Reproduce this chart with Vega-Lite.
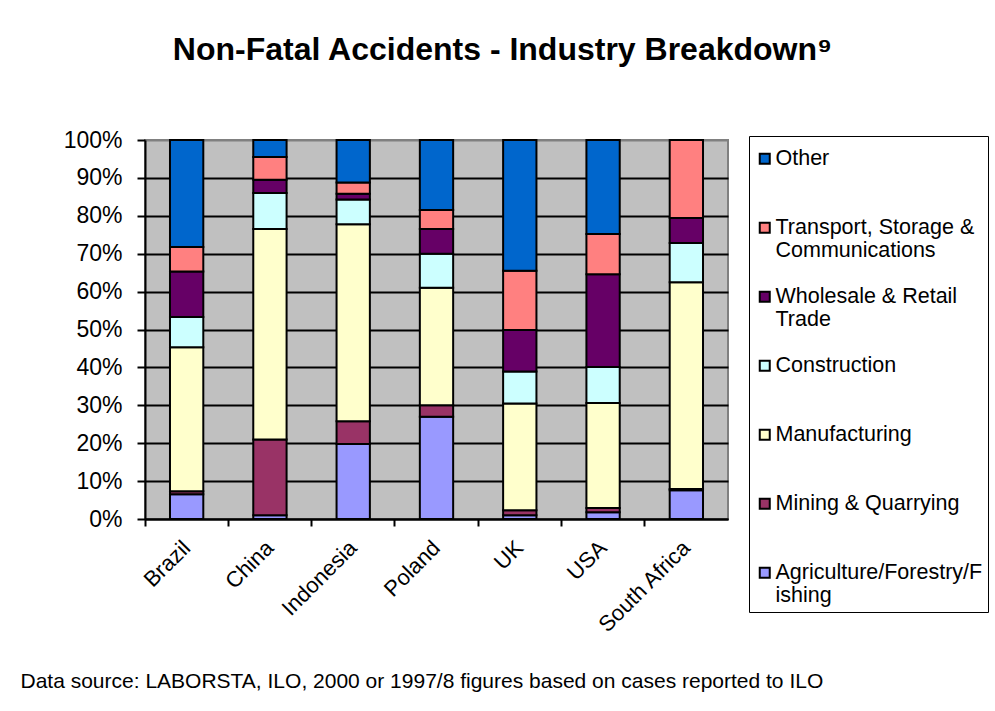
{
  "$schema": "https://vega.github.io/schema/vega-lite/v6.json",
  "width": 583,
  "height": 379,
  "autosize": {"type": "none"},
  "padding": {"left": 145, "top": 140, "right": 267, "bottom": 192},
  "background": "white",
  "title": {
    "text": "Non-Fatal Accidents - Industry Breakdown⁹",
    "font": "Liberation Sans",
    "fontSize": 32,
    "fontWeight": "bold",
    "color": "black",
    "anchor": "middle",
    "dx": 66,
    "offset": 62
  },
  "data": {
    "values": [
      {"country": "Brazil", "sector": "Agriculture/Forestry/Fishing", "ord": 1, "value": 6.5},
      {"country": "Brazil", "sector": "Mining & Quarrying", "ord": 2, "value": 0.8},
      {"country": "Brazil", "sector": "Manufacturing", "ord": 3, "value": 38},
      {"country": "Brazil", "sector": "Construction", "ord": 4, "value": 8},
      {"country": "Brazil", "sector": "Wholesale & Retail Trade", "ord": 5, "value": 12},
      {"country": "Brazil", "sector": "Transport, Storage & Communications", "ord": 6, "value": 6.5},
      {"country": "Brazil", "sector": "Other", "ord": 7, "value": 28.2},
      {"country": "China", "sector": "Agriculture/Forestry/Fishing", "ord": 1, "value": 1},
      {"country": "China", "sector": "Mining & Quarrying", "ord": 2, "value": 20},
      {"country": "China", "sector": "Manufacturing", "ord": 3, "value": 55.5},
      {"country": "China", "sector": "Construction", "ord": 4, "value": 9.5},
      {"country": "China", "sector": "Wholesale & Retail Trade", "ord": 5, "value": 3.5},
      {"country": "China", "sector": "Transport, Storage & Communications", "ord": 6, "value": 6},
      {"country": "China", "sector": "Other", "ord": 7, "value": 4.5},
      {"country": "Indonesia", "sector": "Agriculture/Forestry/Fishing", "ord": 1, "value": 19.8},
      {"country": "Indonesia", "sector": "Mining & Quarrying", "ord": 2, "value": 6},
      {"country": "Indonesia", "sector": "Manufacturing", "ord": 3, "value": 52},
      {"country": "Indonesia", "sector": "Construction", "ord": 4, "value": 6.5},
      {"country": "Indonesia", "sector": "Wholesale & Retail Trade", "ord": 5, "value": 1.5},
      {"country": "Indonesia", "sector": "Transport, Storage & Communications", "ord": 6, "value": 3},
      {"country": "Indonesia", "sector": "Other", "ord": 7, "value": 11.2},
      {"country": "Poland", "sector": "Agriculture/Forestry/Fishing", "ord": 1, "value": 27},
      {"country": "Poland", "sector": "Mining & Quarrying", "ord": 2, "value": 3},
      {"country": "Poland", "sector": "Manufacturing", "ord": 3, "value": 31},
      {"country": "Poland", "sector": "Construction", "ord": 4, "value": 9},
      {"country": "Poland", "sector": "Wholesale & Retail Trade", "ord": 5, "value": 6.5},
      {"country": "Poland", "sector": "Transport, Storage & Communications", "ord": 6, "value": 5},
      {"country": "Poland", "sector": "Other", "ord": 7, "value": 18.5},
      {"country": "UK", "sector": "Agriculture/Forestry/Fishing", "ord": 1, "value": 1},
      {"country": "UK", "sector": "Mining & Quarrying", "ord": 2, "value": 1.3},
      {"country": "UK", "sector": "Manufacturing", "ord": 3, "value": 28.2},
      {"country": "UK", "sector": "Construction", "ord": 4, "value": 8.4},
      {"country": "UK", "sector": "Wholesale & Retail Trade", "ord": 5, "value": 11},
      {"country": "UK", "sector": "Transport, Storage & Communications", "ord": 6, "value": 15.6},
      {"country": "UK", "sector": "Other", "ord": 7, "value": 34.5},
      {"country": "USA", "sector": "Agriculture/Forestry/Fishing", "ord": 1, "value": 1.8},
      {"country": "USA", "sector": "Mining & Quarrying", "ord": 2, "value": 1.1},
      {"country": "USA", "sector": "Manufacturing", "ord": 3, "value": 27.7},
      {"country": "USA", "sector": "Construction", "ord": 4, "value": 9.5},
      {"country": "USA", "sector": "Wholesale & Retail Trade", "ord": 5, "value": 24.5},
      {"country": "USA", "sector": "Transport, Storage & Communications", "ord": 6, "value": 10.6},
      {"country": "USA", "sector": "Other", "ord": 7, "value": 24.8},
      {"country": "South Africa", "sector": "Agriculture/Forestry/Fishing", "ord": 1, "value": 7.6},
      {"country": "South Africa", "sector": "Mining & Quarrying", "ord": 2, "value": 0.3},
      {"country": "South Africa", "sector": "Manufacturing", "ord": 3, "value": 54.6},
      {"country": "South Africa", "sector": "Construction", "ord": 4, "value": 10.3},
      {"country": "South Africa", "sector": "Wholesale & Retail Trade", "ord": 5, "value": 6.6},
      {"country": "South Africa", "sector": "Transport, Storage & Communications", "ord": 6, "value": 20.6}
    ]
  },
  "mark": {"type": "bar", "width": {"band": 0.4}, "stroke": "black", "strokeWidth": 2},
  "encoding": {
    "x": {
      "field": "country",
      "type": "nominal",
      "sort": ["Brazil", "China", "Indonesia", "Poland", "UK", "USA", "South Africa"],
      "scale": {"paddingInner": 0, "paddingOuter": 0},
      "axis": {
        "title": "Data source: LABORSTA, ILO, 2000 or 1997/8 figures based on cases reported to ILO",
        "titleFont": "Liberation Sans",
        "titleFontSize": 21,
        "titleFontWeight": "normal",
        "titleColor": "black",
        "titleX": -125,
        "titleY": 168,
        "titleAlign": "left",
        "titleAnchor": "start",
        "titleBaseline": "alphabetic",
        "labelAngle": -45,
        "labelAlign": "right",
        "labelBaseline": "middle",
        "labelFont": "Liberation Sans",
        "labelFontSize": 22,
        "labelColor": "black",
        "labelPadding": 18,
        "bandPosition": 0,
        "domainColor": "black",
        "domainWidth": 2,
        "tickColor": "black",
        "tickWidth": 2,
        "tickSize": 7,
        "grid": false
      }
    },
    "y": {
      "field": "value",
      "type": "quantitative",
      "stack": "normalize",
      "scale": {"domain": [0, 1], "nice": false},
      "axis": {
        "title": null,
        "format": ".0%",
        "values": [0, 0.1, 0.2, 0.3, 0.4, 0.5, 0.6, 0.7, 0.8, 0.9, 1],
        "labelFont": "Liberation Sans",
        "labelFontSize": 23,
        "labelColor": "black",
        "labelPadding": 15,
        "domainColor": "black",
        "domainWidth": 2,
        "tickColor": "black",
        "tickWidth": 2,
        "tickSize": 8,
        "grid": true,
        "gridColor": {"condition": {"test": "datum.value == 1", "value": "#808080"}, "value": "black"},
        "gridWidth": 2,
        "gridOpacity": 1
      }
    },
    "color": {
      "field": "sector",
      "type": "nominal",
      "scale": {
        "domain": ["Other", "Transport, Storage & Communications", "Wholesale & Retail Trade", "Construction", "Manufacturing", "Mining & Quarrying", "Agriculture/Forestry/Fishing"],
        "range": ["#0066CC", "#FF8080", "#660066", "#CCFFFF", "#FFFFCC", "#993366", "#9999FF"]
      },
      "legend": {
        "title": " ",
        "titleFontSize": 1,
        "titlePadding": 6,
        "orient": "none",
        "legendX": 604,
        "legendY": -4,
        "strokeColor": "black",
        "fillColor": "white",
        "padding": 5,
        "symbolType": "square",
        "symbolSize": 100,
        "symbolStrokeColor": "black",
        "symbolStrokeWidth": 2,
        "symbolOpacity": 1,
        "labelFont": "Liberation Sans",
        "labelFontSize": 21.5,
        "labelColor": "black",
        "labelLimit": 400,
        "labelOffset": 0,
        "labelLineHeight": 27,
        "labelBaseline": "middle",
        "rowPadding": 23,
        "labelExpr": "datum.label == 'Transport, Storage & Communications' ? ['Transport, Storage &', 'Communications'] : datum.label == 'Wholesale & Retail Trade' ? ['Wholesale & Retail', 'Trade'] : datum.label == 'Agriculture/Forestry/Fishing' ? ['Agriculture/Forestry/F', 'ishing'] : [datum.label, ' ']",
        "encoding": {
          "labels": {"update": {"dy": {"value": 13.5}}},
          "legend": {"update": {"strokeWidth": {"value": 2}}}
        }
      }
    },
    "order": {"field": "ord", "type": "quantitative", "sort": "ascending"}
  },
  "config": {
    "font": "Liberation Sans",
    "view": {"stroke": "#808080", "strokeWidth": 2, "fill": "#C0C0C0"}
  }
}
